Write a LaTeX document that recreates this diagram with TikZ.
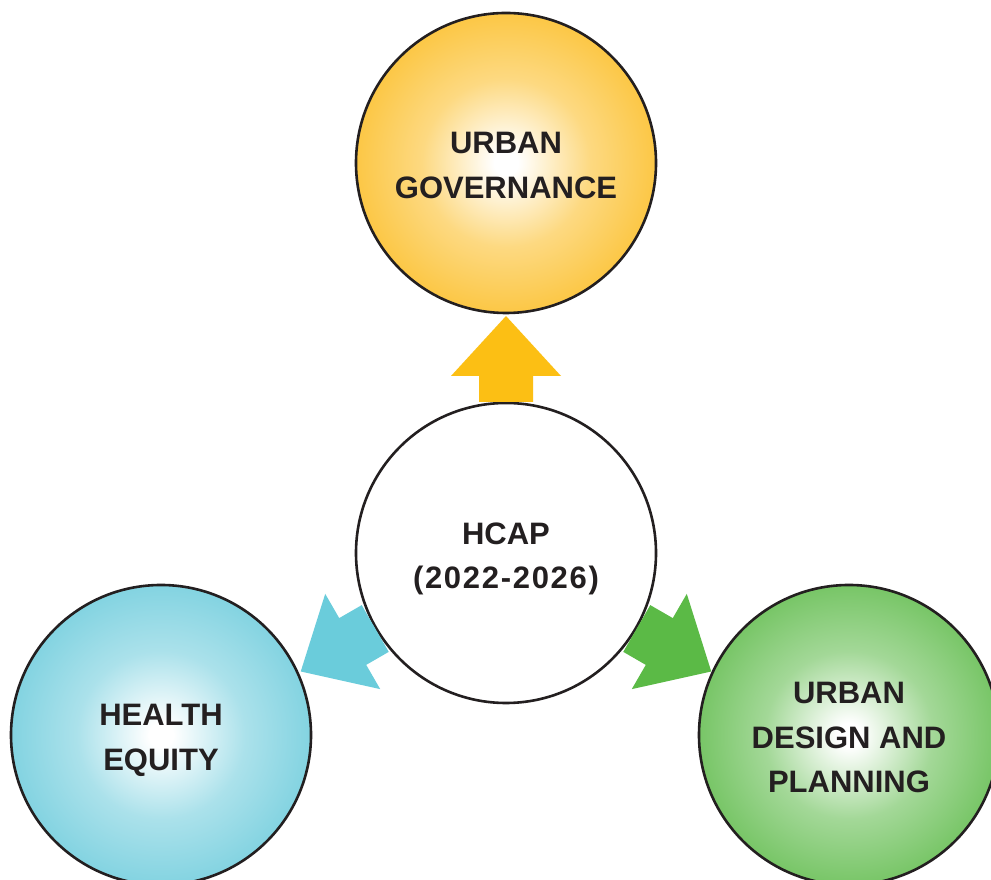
\documentclass[tikz,border=0pt]{standalone}
\usepackage{fontspec}
\setmainfont{Liberation Sans}

\definecolor{ink}{HTML}{231F20}
\definecolor{govfill}{HTML}{FBBA1A}
\definecolor{govarrow}{HTML}{FCBF14}
\definecolor{eqfill}{HTML}{66C9DA}
\definecolor{eqarrow}{HTML}{6ACCDB}
\definecolor{planfill}{HTML}{58B843}
\definecolor{planarrow}{HTML}{5BBA46}

% white centre fading out to the theme colour at the rim (rim sits near 35bp)
\pgfdeclareradialshading{glowgov}{\pgfpoint{0bp}{0bp}}{color(0bp)=(white); color(2bp)=(white); color(14bp)=(govfill!55!white); color(33bp)=(govfill); color(50bp)=(govfill)}
\pgfdeclareradialshading{gloweq}{\pgfpoint{0bp}{0bp}}{color(0bp)=(white); color(2bp)=(white); color(14bp)=(eqfill!55!white); color(33bp)=(eqfill); color(50bp)=(eqfill)}
\pgfdeclareradialshading{glowplan}{\pgfpoint{0bp}{0bp}}{color(0bp)=(white); color(2bp)=(white); color(14bp)=(planfill!55!white); color(33bp)=(planfill); color(50bp)=(planfill)}

\tikzset{
  pillar/.style={circle, draw=ink, line width=2.6pt, minimum size=300pt, inner sep=0pt,
    align=center, text=ink, font=\fontsize{31pt}{44.5pt}\selectfont\bfseries},
  label shift/.style={text depth=0pt, yshift=-2.5pt},
}

% block arrow leaving the hub at angle #1, filled with colour #2
\newcommand\hubarrow[2]{%
  \begin{scope}[shift={(hcap.center)}, rotate=#1]
    \fill[#2] (151,-27) -- (177,-27) -- (177,-55) -- (237,0) -- (177,55) -- (177,27) -- (151,27) -- cycle;
  \end{scope}}

\begin{document}
\begin{tikzpicture}[x=1pt, y=1pt]
  \clip (0,0) rectangle (991,880);
  \fill[white] (0,0) rectangle (991,880);

  \node[pillar, fill=white] (hcap) at (506,327) {};
  \node[pillar, shading=glowgov] (gov) at (506,717) {};
  \node[pillar, shading=gloweq] (eq) at (161,145) {};
  \node[pillar, shading=glowplan] (plan) at (849,145) {};

  \node[pillar, draw=none, label shift] (hcaptext) at (hcap.center)
    {HCAP\\{\addfontfeature{LetterSpace=5.5}(2022-2026)}};
  \node[pillar, draw=none, label shift] (govtext) at (gov.center) {URBAN\\GOVERNANCE};
  \node[pillar, draw=none, label shift] (eqtext) at (eq.center) {HEALTH\\EQUITY};
  \node[pillar, draw=none, label shift] (plantext) at (plan.center) {URBAN\\DESIGN AND\\PLANNING};

  % connectors from the hub towards gov, eq and plan
  \hubarrow{90}{govarrow}
  \hubarrow{210}{eqarrow}
  \hubarrow{330}{planarrow}
\end{tikzpicture}
\end{document}
